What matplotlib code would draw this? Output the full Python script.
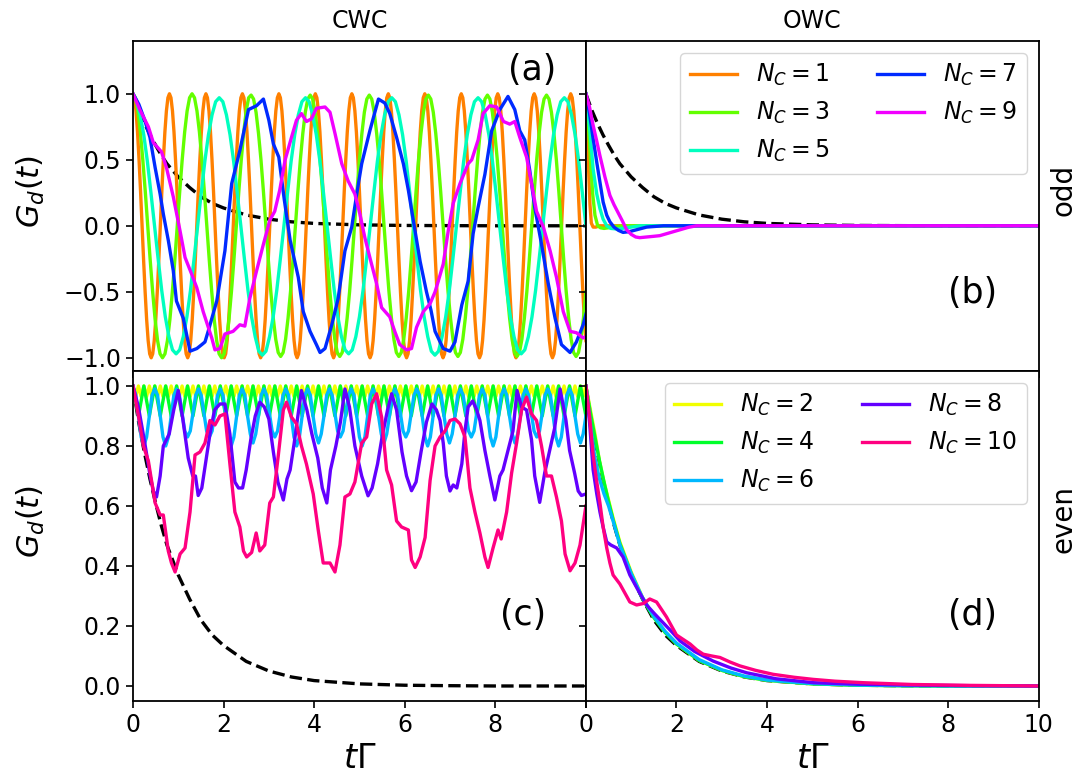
import numpy as np
import matplotlib.pyplot as plt

# ---------------- data ----------------
# reference decay (black dashed), same curve in all four panels
t_ref = [0, 0.125, 0.25, 0.375, 0.5, 0.625, 0.75, 0.875, 1.0, 1.25, 1.5, 1.75,
         2.0, 2.5, 3.0, 3.5, 4.0, 5.0, 6.0, 7.0, 8.0, 10.0]
g_ref = [1.0, 0.88, 0.78, 0.69, 0.61, 0.535, 0.47, 0.42, 0.37, 0.29, 0.22, 0.17,
         0.135, 0.082, 0.05, 0.03, 0.018, 0.007, 0.0025, 0.001, 0.0, 0.0]

# (a) CWC, odd N_C  (one row = one oscillation period)
t_n1 = np.linspace(0, 10, 299)
g_n1 = [
    1.0, 0.97, 0.87, 0.71, 0.5, 0.26, 0.0, -0.26, -0.5, -0.71, -0.87, -0.97, -1.0, -0.97, -0.87, -0.71, -0.5, -0.26, 0.0, 0.26, 0.5, 0.71, 0.87, 0.97,
    1.0, 0.97, 0.87, 0.71, 0.5, 0.26, 0.0, -0.26, -0.5, -0.71, -0.87, -0.97, -1.0, -0.97, -0.87, -0.71, -0.5, -0.26, 0.0, 0.26, 0.5, 0.71, 0.87, 0.97,
    1.0, 0.97, 0.87, 0.71, 0.5, 0.26, 0.0, -0.26, -0.5, -0.71, -0.87, -0.97, -1.0, -0.97, -0.87, -0.71, -0.5, -0.26, 0.0, 0.26, 0.5, 0.71, 0.87, 0.97,
    1.0, 0.97, 0.87, 0.71, 0.5, 0.26, 0.0, -0.26, -0.5, -0.71, -0.87, -0.97, -1.0, -0.97, -0.87, -0.71, -0.5, -0.26, 0.0, 0.26, 0.5, 0.71, 0.87, 0.97,
    1.0, 0.97, 0.87, 0.71, 0.5, 0.26, 0.0, -0.26, -0.5, -0.71, -0.87, -0.97, -1.0, -0.97, -0.87, -0.71, -0.5, -0.26, 0.0, 0.26, 0.5, 0.71, 0.87, 0.97,
    1.0, 0.97, 0.87, 0.71, 0.5, 0.26, 0.0, -0.26, -0.5, -0.71, -0.87, -0.97, -1.0, -0.97, -0.87, -0.71, -0.5, -0.26, 0.0, 0.26, 0.5, 0.71, 0.87, 0.97,
    1.0, 0.97, 0.87, 0.71, 0.5, 0.26, 0.0, -0.26, -0.5, -0.71, -0.87, -0.97, -1.0, -0.97, -0.87, -0.71, -0.5, -0.26, 0.0, 0.26, 0.5, 0.71, 0.87, 0.97,
    1.0, 0.97, 0.87, 0.71, 0.5, 0.26, 0.0, -0.26, -0.5, -0.71, -0.87, -0.97, -1.0, -0.97, -0.87, -0.71, -0.5, -0.26, 0.0, 0.26, 0.5, 0.71, 0.87, 0.97,
    1.0, 0.97, 0.87, 0.71, 0.5, 0.26, 0.0, -0.26, -0.5, -0.71, -0.87, -0.97, -1.0, -0.97, -0.87, -0.71, -0.5, -0.26, 0.0, 0.26, 0.5, 0.71, 0.87, 0.97,
    1.0, 0.97, 0.87, 0.71, 0.5, 0.26, 0.0, -0.26, -0.5, -0.71, -0.87, -0.97, -1.0, -0.97, -0.87, -0.71, -0.5, -0.26, 0.0, 0.26, 0.5, 0.71, 0.87, 0.97,
    1.0, 0.97, 0.87, 0.71, 0.5, 0.26, 0.0, -0.26, -0.5, -0.71, -0.87, -0.97, -1.0, -0.97, -0.87, -0.71, -0.5, -0.26, 0.0, 0.26, 0.5, 0.71, 0.87, 0.97,
    1.0, 0.97, 0.87, 0.71, 0.5, 0.26, 0.0, -0.26, -0.5, -0.71, -0.87, -0.97, -1.0, -0.97, -0.87, -0.71, -0.5, -0.26, 0.0, 0.26, 0.5, 0.71, 0.87, 0.97,
    1.0, 0.97, 0.87, 0.71, 0.5, 0.26, 0.0, -0.26, -0.5, -0.71, -0.87]

t_n3 = np.linspace(0, 10, 185)
g_n3 = [
    1.0, 0.97, 0.87, 0.71, 0.5, 0.26, 0.0, -0.26, -0.5, -0.71, -0.87, -0.97, -1.0, -0.97, -0.87, -0.71, -0.5, -0.26, 0.0, 0.26, 0.5, 0.71, 0.87, 0.97,
    1.0, 0.97, 0.87, 0.71, 0.5, 0.26, 0.0, -0.26, -0.5, -0.71, -0.87, -0.97, -1.0, -0.97, -0.87, -0.71, -0.5, -0.26, 0.0, 0.26, 0.5, 0.71, 0.87, 0.97,
    0.99, 0.96, 0.86, 0.7, 0.5, 0.26, 0.0, -0.26, -0.5, -0.7, -0.86, -0.96, -0.99, -0.96, -0.86, -0.7, -0.5, -0.26, 0.0, 0.26, 0.5, 0.7, 0.86, 0.96,
    0.99, 0.96, 0.86, 0.7, 0.5, 0.26, 0.0, -0.26, -0.5, -0.7, -0.86, -0.96, -0.99, -0.96, -0.86, -0.7, -0.5, -0.26, 0.0, 0.26, 0.5, 0.7, 0.86, 0.96,
    0.99, 0.96, 0.86, 0.7, 0.5, 0.26, 0.0, -0.26, -0.5, -0.7, -0.86, -0.96, -0.99, -0.96, -0.86, -0.7, -0.5, -0.26, 0.0, 0.26, 0.5, 0.7, 0.86, 0.96,
    0.99, 0.96, 0.86, 0.7, 0.5, 0.26, 0.0, -0.26, -0.5, -0.7, -0.86, -0.96, -0.99, -0.96, -0.86, -0.7, -0.5, -0.26, 0.0, 0.26, 0.5, 0.7, 0.86, 0.96,
    0.99, 0.96, 0.86, 0.7, 0.5, 0.26, 0.0, -0.26, -0.5, -0.7, -0.86, -0.96, -0.99, -0.96, -0.86, -0.7, -0.5, -0.26, 0.0, 0.26, 0.5, 0.7, 0.86, 0.96,
    0.99, 0.96, 0.86, 0.7, 0.5, 0.26, 0.0, -0.26, -0.5, -0.7, -0.86, -0.96, -0.99, -0.96, -0.86, -0.7, -0.5]

t_n5 = np.linspace(0, 10, 127)
g_n5 = [
    1.0, 0.95, 0.84, 0.69, 0.49, 0.25, 0.0, -0.25, -0.49, -0.69, -0.84, -0.94, -0.97, -0.94, -0.84, -0.69, -0.49, -0.25, 0.0, 0.25, 0.49, 0.69, 0.84, 0.94,
    0.97, 0.94, 0.84, 0.69, 0.49, 0.25, 0.0, -0.25, -0.49, -0.69, -0.84, -0.95, -0.98, -0.95, -0.84, -0.69, -0.49, -0.25, 0.0, 0.25, 0.49, 0.69, 0.84, 0.94,
    0.97, 0.94, 0.84, 0.69, 0.49, 0.25, 0.0, -0.25, -0.49, -0.69, -0.84, -0.94, -0.97, -0.94, -0.84, -0.69, -0.49, -0.25, 0.0, 0.25, 0.49, 0.69, 0.84, 0.94,
    0.97, 0.94, 0.84, 0.69, 0.49, 0.25, 0.0, -0.25, -0.49, -0.69, -0.84, -0.95, -0.98, -0.95, -0.84, -0.69, -0.49, -0.25, 0.0, 0.25, 0.49, 0.69, 0.84, 0.94,
    0.97, 0.94, 0.84, 0.69, 0.49, 0.25, 0.0, -0.25, -0.49, -0.69, -0.84, -0.94, -0.97, -0.94, -0.84, -0.69, -0.49, -0.25, 0.0, 0.25, 0.49, 0.69, 0.84, 0.94,
    0.97, 0.94, 0.84, 0.69, 0.49, 0.25, 0.0]

t_n7 = [0, 0.13, 0.26, 0.375, 0.49, 0.6, 0.67, 0.78, 0.89, 0.96, 1.11, 1.26,
        1.41, 1.52, 1.59, 1.66, 1.85, 2.03, 2.18, 2.36, 2.55, 2.73, 2.88, 3.0,
        3.10, 3.22, 3.34, 3.47, 3.65, 3.76, 3.91, 4.05, 4.13, 4.24, 4.39, 4.53,
        4.68, 4.83, 4.94, 5.05, 5.23, 5.42, 5.56, 5.67, 5.82, 5.97, 6.08, 6.19,
        6.34, 6.48, 6.58, 6.67, 6.85, 7.0, 7.11, 7.26, 7.40, 7.51, 7.62, 7.77,
        7.92, 8.10, 8.28, 8.43, 8.54, 8.65, 8.76, 8.87, 9.02, 9.17, 9.32, 9.46,
        9.65, 9.79, 9.94, 10.0]
g_n7 = [1.0, 0.92, 0.80, 0.67, 0.44, 0.24, 0.09, -0.11, -0.34, -0.57, -0.70, -0.95,
        -0.93, -0.90, -0.88, -0.80, -0.57, -0.19, 0.32, 0.57, 0.88, 0.91, 0.96, 0.80,
        0.62, 0.52, 0.20, -0.11, -0.39, -0.65, -0.80, -0.90, -0.96, -0.93, -0.75, -0.55,
        -0.19, -0.01, 0.24, 0.47, 0.72, 0.96, 0.93, 0.85, 0.67, 0.47, 0.27, 0.04,
        -0.27, -0.50, -0.64, -0.80, -0.93, -0.95, -0.88, -0.60, -0.42, -0.06, 0.14, 0.39,
        0.72, 0.88, 0.98, 0.88, 0.72, 0.65, 0.42, 0.14, -0.14, -0.44, -0.70, -0.90,
        -0.96, -0.88, -0.75, -0.67]

t_n9 = [0, 0.15, 0.34, 0.45, 0.63, 0.74, 0.89, 1.04, 1.15, 1.30, 1.41, 1.55,
        1.74, 1.81, 1.92, 2.03, 2.21, 2.36, 2.47, 2.58, 2.73, 2.88, 3.02, 3.13,
        3.24, 3.36, 3.50, 3.61, 3.72, 3.83, 3.94, 4.05, 4.24, 4.35, 4.46, 4.61,
        4.75, 4.90, 5.01, 5.12, 5.23, 5.38, 5.49, 5.67, 5.78, 5.89, 6.04, 6.15,
        6.26, 6.41, 6.56, 6.67, 6.74, 6.85, 6.96, 7.07, 7.22, 7.40, 7.48, 7.62,
        7.73, 7.88, 8.03, 8.18, 8.32, 8.43, 8.54, 8.69, 8.80, 8.91, 9.06, 9.21,
        9.35, 9.50, 9.65, 9.79, 9.94, 10.0]
g_n9 = [1.0, 0.88, 0.75, 0.63, 0.56, 0.44, 0.22, -0.04, -0.24, -0.37, -0.47, -0.65,
        -0.85, -0.94, -0.93, -0.82, -0.80, -0.75, -0.76, -0.55, -0.34, -0.14, 0.04, 0.11,
        0.27, 0.50, 0.67, 0.80, 0.85, 0.79, 0.81, 0.89, 0.90, 0.86, 0.70, 0.47,
        0.34, 0.24, 0.09, -0.09, -0.24, -0.44, -0.62, -0.69, -0.80, -0.90, -0.94, -0.93,
        -0.77, -0.65, -0.59, -0.50, -0.42, -0.29, -0.04, 0.17, 0.32, 0.47, 0.50, 0.65,
        0.85, 0.91, 0.90, 0.79, 0.77, 0.79, 0.67, 0.52, 0.32, 0.11, -0.01, -0.19,
        -0.39, -0.65, -0.80, -0.81, -0.85, -0.84]

# (b) OWC, odd N_C
tb_n1 = [0, 0.03, 0.06, 0.09, 0.12, 0.16, 0.22, 0.3, 0.5, 10]
gb_n1 = [1.0, 0.72, 0.42, 0.16, 0.02, -0.01, -0.01, 0.0, 0.0, 0.0]
tb_n3 = [0, 0.05, 0.1, 0.15, 0.2, 0.26, 0.32, 0.4, 0.5, 0.65, 0.9, 10]
gb_n3 = [1.0, 0.8, 0.5, 0.24, 0.08, 0.0, -0.015, -0.02, -0.015, -0.005, 0.0, 0.0]
tb_n5 = [0, 0.08, 0.16, 0.24, 0.31, 0.38, 0.46, 0.55, 0.7, 0.9, 1.2, 10]
gb_n5 = [1.0, 0.75, 0.43, 0.24, 0.13, 0.05, 0.0, -0.02, -0.025, -0.015, 0.0, 0.0]
tb_n7 = [0, 0.08, 0.16, 0.24, 0.31, 0.38, 0.46, 0.53, 0.62, 0.72, 0.82, 0.95,
         1.12, 1.34, 1.71, 2.2, 10]
gb_n7 = [1.0, 0.85, 0.66, 0.48, 0.33, 0.18, 0.08, 0.03, -0.01, -0.035, -0.05, -0.045,
         -0.03, -0.01, 0.0, 0.0, 0.0]
tb_n9 = [0, 0.08, 0.16, 0.24, 0.31, 0.42, 0.53, 0.62, 0.71, 0.80, 0.90, 1.0,
         1.1, 1.19, 1.34, 1.49, 1.63, 1.78, 1.93, 2.08, 2.26, 2.44, 2.8, 10]
gb_n9 = [1.0, 0.9, 0.76, 0.64, 0.53, 0.37, 0.23, 0.16, 0.10, 0.04, -0.03, -0.065,
         -0.085, -0.09, -0.085, -0.08, -0.075, -0.06, -0.045, -0.03, -0.012, 0.0, 0.0, 0.0]

# (c) CWC, even N_C
t_fast = np.linspace(0, 10, 167)
g_n2 = [
    1.0, 0.965, 1.0, 0.965, 1.0, 0.965, 1.0, 0.965, 1.0, 0.965, 1.0, 0.965, 1.0, 0.965, 1.0, 0.965,
    1.0, 0.965, 1.0, 0.965, 1.0, 0.965, 1.0, 0.965, 1.0, 0.965, 1.0, 0.965, 1.0, 0.965, 1.0, 0.965,
    1.0, 0.965, 1.0, 0.965, 1.0, 0.965, 1.0, 0.965, 1.0, 0.965, 1.0, 0.965, 1.0, 0.965, 1.0, 0.965,
    1.0, 0.965, 1.0, 0.965, 1.0, 0.965, 1.0, 0.965, 1.0, 0.965, 1.0, 0.965, 1.0, 0.965, 1.0, 0.965,
    1.0, 0.965, 1.0, 0.965, 1.0, 0.965, 1.0, 0.965, 1.0, 0.965, 1.0, 0.965, 1.0, 0.965, 1.0, 0.965,
    1.0, 0.965, 1.0, 0.965, 1.0, 0.965, 1.0, 0.965, 1.0, 0.965, 1.0, 0.965, 1.0, 0.965, 1.0, 0.965,
    1.0, 0.965, 1.0, 0.965, 1.0, 0.965, 1.0, 0.965, 1.0, 0.965, 1.0, 0.965, 1.0, 0.965, 1.0, 0.965,
    1.0, 0.965, 1.0, 0.965, 1.0, 0.965, 1.0, 0.965, 1.0, 0.965, 1.0, 0.965, 1.0, 0.965, 1.0, 0.965,
    1.0, 0.965, 1.0, 0.965, 1.0, 0.965, 1.0, 0.965, 1.0, 0.965, 1.0, 0.965, 1.0, 0.965, 1.0, 0.965,
    1.0, 0.965, 1.0, 0.965, 1.0, 0.965, 1.0, 0.965, 1.0, 0.965, 1.0, 0.965, 1.0, 0.965, 1.0, 0.965,
    1.0, 0.965, 1.0, 0.965, 1.0, 0.965, 1.0]
g_n4 = [
    1.0, 0.95, 0.9, 0.95, 1.0, 0.95, 0.9, 0.95, 1.0, 0.95, 0.9, 0.95, 1.0, 0.95, 0.9, 0.95,
    1.0, 0.95, 0.9, 0.95, 1.0, 0.95, 0.9, 0.95, 1.0, 0.95, 0.9, 0.95, 1.0, 0.95, 0.9, 0.95,
    1.0, 0.95, 0.9, 0.95, 1.0, 0.95, 0.9, 0.95, 1.0, 0.95, 0.9, 0.95, 1.0, 0.95, 0.9, 0.95,
    1.0, 0.95, 0.9, 0.95, 1.0, 0.95, 0.9, 0.95, 1.0, 0.95, 0.9, 0.95, 1.0, 0.95, 0.9, 0.95,
    1.0, 0.95, 0.9, 0.95, 1.0, 0.95, 0.9, 0.95, 1.0, 0.95, 0.9, 0.95, 1.0, 0.95, 0.9, 0.95,
    1.0, 0.95, 0.9, 0.95, 1.0, 0.95, 0.9, 0.95, 1.0, 0.95, 0.9, 0.95, 1.0, 0.95, 0.9, 0.95,
    1.0, 0.95, 0.9, 0.95, 1.0, 0.95, 0.9, 0.95, 1.0, 0.95, 0.9, 0.95, 1.0, 0.95, 0.9, 0.95,
    1.0, 0.95, 0.9, 0.95, 1.0, 0.95, 0.9, 0.95, 1.0, 0.95, 0.9, 0.95, 1.0, 0.95, 0.9, 0.95,
    1.0, 0.95, 0.9, 0.95, 1.0, 0.95, 0.9, 0.95, 1.0, 0.95, 0.9, 0.95, 1.0, 0.95, 0.9, 0.95,
    1.0, 0.95, 0.9, 0.95, 1.0, 0.95, 0.9, 0.95, 1.0, 0.95, 0.9, 0.95, 1.0, 0.95, 0.9, 0.95,
    1.0, 0.95, 0.9, 0.95, 1.0, 0.95, 0.9]
g_n6 = [
    1.0, 0.97, 0.9, 0.83, 0.8, 0.83, 0.9, 0.97, 0.99, 0.97, 0.9, 0.83, 0.8, 0.83, 0.9, 0.97,
    0.99, 0.97, 0.91, 0.85, 0.83, 0.85, 0.91, 0.97, 0.99, 0.97, 0.91, 0.85, 0.83, 0.85, 0.91, 0.97,
    0.99, 0.97, 0.9, 0.83, 0.8, 0.83, 0.9, 0.97, 0.99, 0.97, 0.9, 0.84, 0.81, 0.84, 0.9, 0.97,
    0.99, 0.97, 0.91, 0.85, 0.83, 0.85, 0.91, 0.97, 0.99, 0.97, 0.9, 0.83, 0.8, 0.83, 0.9, 0.97,
    0.99, 0.97, 0.9, 0.84, 0.81, 0.84, 0.9, 0.97, 0.99, 0.97, 0.91, 0.85, 0.83, 0.85, 0.91, 0.97,
    0.99, 0.97, 0.9, 0.83, 0.8, 0.83, 0.9, 0.97, 0.99, 0.97, 0.9, 0.84, 0.81, 0.84, 0.9, 0.97,
    0.99, 0.97, 0.91, 0.85, 0.83, 0.85, 0.91, 0.97, 0.99, 0.97, 0.9, 0.83, 0.8, 0.83, 0.9, 0.97,
    0.99, 0.97, 0.9, 0.84, 0.81, 0.84, 0.9, 0.97, 0.99, 0.97, 0.91, 0.85, 0.83, 0.85, 0.91, 0.97,
    0.99, 0.97, 0.9, 0.83, 0.8, 0.83, 0.9, 0.97, 0.99, 0.97, 0.9, 0.84, 0.81, 0.84, 0.9, 0.97,
    0.99, 0.97, 0.91, 0.85, 0.83, 0.85, 0.91, 0.97, 0.99, 0.97, 0.9, 0.83, 0.8, 0.83, 0.9, 0.97,
    0.99, 0.97, 0.9, 0.84, 0.81, 0.84, 0.9]

t_n8 = [0, 0.12, 0.25, 0.38, 0.45, 0.52, 0.60, 0.67, 0.80, 0.90, 1.0, 1.10,
        1.22, 1.32, 1.38, 1.44, 1.52, 1.60, 1.70, 1.80, 1.92, 2.03, 2.14, 2.25,
        2.33, 2.42, 2.50, 2.60, 2.70, 2.80, 2.90, 3.0, 3.10, 3.20, 3.32, 3.40,
        3.47, 3.56, 3.65, 3.72, 3.84, 3.95, 4.08, 4.18, 4.28, 4.36, 4.48, 4.58,
        4.68, 4.78, 4.90, 5.05, 5.19, 5.28, 5.40, 5.50, 5.62, 5.71, 5.82, 5.94,
        6.04, 6.15, 6.25, 6.36, 6.48, 6.60, 6.70, 6.78, 6.85, 6.92, 7.0, 7.07,
        7.15, 7.26, 7.33, 7.40, 7.50, 7.59, 7.66, 7.77, 7.88, 7.99, 8.10, 8.17,
        8.28, 8.39, 8.48, 8.58, 8.69, 8.80, 8.87, 8.98, 9.09, 9.20, 9.31, 9.43,
        9.56, 9.64, 9.75, 9.83, 9.90, 10.0]
g_n8 = [1.0, 0.93, 0.82, 0.70, 0.65, 0.63, 0.70, 0.80, 0.84, 0.92, 0.985, 0.89,
        0.76, 0.70, 0.70, 0.635, 0.66, 0.74, 0.84, 0.92, 0.94, 0.94, 0.84, 0.68,
        0.66, 0.66, 0.72, 0.82, 0.90, 0.946, 0.93, 0.89, 0.78, 0.68, 0.62, 0.69,
        0.72, 0.81, 0.91, 0.985, 0.92, 0.84, 0.76, 0.66, 0.61, 0.72, 0.80, 0.88,
        0.99, 0.93, 0.80, 0.70, 0.634, 0.66, 0.74, 0.83, 0.92, 0.974, 0.92, 0.78,
        0.70, 0.651, 0.68, 0.78, 0.88, 0.94, 0.92, 0.885, 0.81, 0.70, 0.65, 0.67,
        0.66, 0.74, 0.85, 0.93, 0.95, 0.92, 0.885, 0.785, 0.70, 0.62, 0.70, 0.72,
        0.785, 0.85, 0.985, 0.93, 0.92, 0.82, 0.70, 0.612, 0.71, 0.785, 0.86, 0.99,
        0.885, 0.785, 0.71, 0.65, 0.635, 0.64]

t_n10 = [0, 0.12, 0.23, 0.34, 0.49, 0.6, 0.67, 0.78, 0.85, 0.93, 1.04, 1.15,
         1.26, 1.37, 1.48, 1.59, 1.70, 1.81, 1.92, 2.03, 2.14, 2.25, 2.36, 2.44,
         2.51, 2.62, 2.72, 2.80, 2.91, 3.02, 3.10, 3.21, 3.32, 3.39, 3.50, 3.61,
         3.72, 3.83, 3.98, 4.09, 4.20, 4.35, 4.46, 4.57, 4.68, 4.79, 4.90, 5.05,
         5.16, 5.27, 5.38, 5.49, 5.60, 5.71, 5.82, 5.93, 6.08, 6.15, 6.23, 6.34,
         6.45, 6.56, 6.67, 6.78, 6.89, 7.0, 7.11, 7.22, 7.33, 7.44, 7.55, 7.66,
         7.77, 7.84, 7.95, 8.06, 8.13, 8.25, 8.36, 8.47, 8.58, 8.69, 8.80, 8.91,
         9.02, 9.13, 9.24, 9.35, 9.46, 9.54, 9.65, 9.76, 9.87, 9.98, 10.0]
g_n10 = [1.0, 0.90, 0.80, 0.75, 0.61, 0.57, 0.57, 0.45, 0.41, 0.38, 0.44, 0.46,
         0.58, 0.77, 0.78, 0.81, 0.885, 0.87, 0.90, 0.907, 0.74, 0.58, 0.53, 0.45,
         0.43, 0.445, 0.51, 0.45, 0.47, 0.61, 0.63, 0.77, 0.92, 0.946, 0.896, 0.874,
         0.80, 0.74, 0.64, 0.52, 0.41, 0.41, 0.38, 0.47, 0.63, 0.64, 0.68, 0.81,
         0.83, 0.94, 0.974, 0.896, 0.72, 0.67, 0.55, 0.53, 0.52, 0.42, 0.395, 0.43,
         0.495, 0.685, 0.80, 0.83, 0.85, 0.885, 0.89, 0.874, 0.83, 0.66, 0.58, 0.51,
         0.43, 0.395, 0.46, 0.52, 0.49, 0.58, 0.71, 0.81, 0.92, 0.963, 0.907, 0.885,
         0.80, 0.70, 0.70, 0.63, 0.55, 0.44, 0.384, 0.41, 0.47, 0.58, 0.60]

# (d) OWC, even N_C
td = [0, 0.1, 0.2, 0.3, 0.4, 0.5, 0.6, 0.75, 1.0, 1.25, 1.5, 1.75, 2.0, 2.5,
      3.0, 3.5, 4.0, 5.0, 6.0, 7.0, 8.0, 10.0]
gd_n2 = [1.0, 0.92, 0.84, 0.75, 0.68, 0.62, 0.56, 0.48, 0.38, 0.295, 0.23, 0.18,
         0.14, 0.085, 0.052, 0.031, 0.019, 0.007, 0.0025, 0.001, 0.0, 0.0]
gd_n4 = [1.0, 0.91, 0.83, 0.75, 0.68, 0.615, 0.555, 0.475, 0.375, 0.29, 0.228, 0.178,
         0.14, 0.085, 0.052, 0.031, 0.019, 0.007, 0.0025, 0.001, 0.0, 0.0]
gd_n6 = [1.0, 0.87, 0.76, 0.69, 0.64, 0.6, 0.55, 0.47, 0.375, 0.295, 0.232, 0.182,
         0.143, 0.088, 0.054, 0.033, 0.02, 0.008, 0.003, 0.001, 0.0, 0.0]
td_n8 = [0, 0.08, 0.16, 0.24, 0.31, 0.38, 0.46, 0.55, 0.68, 0.82, 0.97, 1.15,
         1.34, 1.52, 1.71, 1.9, 2.08, 2.4, 2.81, 3.2, 3.55, 4.2, 5.02, 6.0, 7.2, 8.5, 10]
gd_n8 = [1.0, 0.88, 0.72, 0.64, 0.58, 0.53, 0.48, 0.47, 0.46, 0.43, 0.37, 0.32,
         0.27, 0.24, 0.21, 0.18, 0.15, 0.115, 0.083, 0.06, 0.044, 0.024, 0.011, 0.006,
         0.003, 0.001, 0.0]
td_n10 = [0, 0.08, 0.16, 0.24, 0.31, 0.38, 0.46, 0.53, 0.60, 0.75, 0.86, 0.97,
          1.12, 1.27, 1.41, 1.56, 1.67, 1.78, 1.89, 2.0, 2.15, 2.30, 2.45, 2.59,
          2.78, 2.96, 3.18, 3.40, 3.75, 4.13, 4.6, 5.02, 5.5, 6.12, 7.2, 8.5, 10]
gd_n10 = [1.0, 0.9, 0.77, 0.68, 0.61, 0.53, 0.46, 0.41, 0.37, 0.34, 0.31, 0.28,
          0.27, 0.275, 0.29, 0.28, 0.255, 0.23, 0.20, 0.17, 0.155, 0.14, 0.12, 0.106,
          0.10, 0.095, 0.08, 0.067, 0.052, 0.039, 0.029, 0.022, 0.016, 0.011, 0.005,
          0.002, 0.0]

colors = {1: '#ff8000', 2: '#f1ff00', 3: '#63ff00', 4: '#00ff2a', 5: '#00ffbf',
          6: '#00b8ff', 7: '#002aff', 8: '#6300ff', 9: '#f100ff', 10: '#ff0080'}

# ---------------- figure ----------------
plt.rcParams['axes.linewidth'] = 1.3
fig, axes = plt.subplots(2, 2, sharex='col', sharey='row', figsize=(10.81, 7.82), dpi=100)
fig.subplots_adjust(left=0.123, right=0.961, top=0.9476, bottom=0.1036, hspace=0, wspace=0)
ax_a, ax_b = axes[0]
ax_c, ax_d = axes[1]
lw = 2.4

for ax in axes.flat:
    ax.plot(t_ref, g_ref, 'k--', lw=lw)

odd_cwc = [(1, t_n1, g_n1), (3, t_n3, g_n3), (5, t_n5, g_n5), (7, t_n7, g_n7), (9, t_n9, g_n9)]
for n, t, g in odd_cwc:
    ax_a.plot(t, g, color=colors[n], lw=lw)

odd_owc = [(1, tb_n1, gb_n1), (3, tb_n3, gb_n3), (5, tb_n5, gb_n5), (7, tb_n7, gb_n7), (9, tb_n9, gb_n9)]
for n, t, g in odd_owc:
    ax_b.plot(t, g, color=colors[n], lw=lw, label=r'$N_C=%d$' % n)

even_cwc = [(2, t_fast, g_n2), (4, t_fast, g_n4), (6, t_fast, g_n6), (8, t_n8, g_n8), (10, t_n10, g_n10)]
for n, t, g in even_cwc:
    ax_c.plot(t, g, color=colors[n], lw=lw)

even_owc = [(2, td, gd_n2), (4, td, gd_n4), (6, td, gd_n6), (8, td_n8, gd_n8), (10, td_n10, gd_n10)]
for n, t, g in even_owc:
    ax_d.plot(t, g, color=colors[n], lw=lw, label=r'$N_C=%d$' % n)

for ax in axes.flat:
    ax.set_xlim(0, 10)
    ax.tick_params(labelsize=17, width=1.2, length=5)
ax_a.set_ylim(-1.1, 1.4)
ax_a.set_yticks([-1, -0.5, 0, 0.5, 1])
ax_c.set_ylim(-0.05, 1.05)
ax_c.set_yticks([0, 0.2, 0.4, 0.6, 0.8, 1.0])
ax_c.set_xticks([0, 2, 4, 6, 8, 10])
ax_c.set_xticklabels(['0', '2', '4', '6', '8', ''])
ax_d.set_xticks([0, 2, 4, 6, 8, 10])

for ax in (ax_a, ax_c):
    ax.set_ylabel(r'$G_d(t)$', fontsize=22)
    ax.yaxis.set_label_coords(-0.19, 0.545)
for ax in (ax_c, ax_d):
    ax.set_xlabel(r'$t\Gamma$', fontsize=24)
ax_a.set_title('CWC', fontsize=17, pad=9)
ax_b.set_title('OWC', fontsize=17, pad=9)
ax_b.text(1.055, 0.55, 'odd', transform=ax_b.transAxes, rotation=90,
          ha='center', va='center', fontsize=20)
ax_d.text(1.055, 0.55, 'even', transform=ax_d.transAxes, rotation=90,
          ha='center', va='center', fontsize=20)

for ax, lab, x, y in [(ax_a, '(a)', 0.881, 0.912), (ax_b, '(b)', 0.854, 0.236),
                      (ax_c, '(c)', 0.861, 0.26), (ax_d, '(d)', 0.854, 0.26)]:
    ax.text(x, y, lab, transform=ax.transAxes, ha='center', va='center', fontsize=25)

ax_b.legend(loc='upper right', ncol=2, fontsize=17)
ax_d.legend(loc='upper right', ncol=2, fontsize=17)

plt.savefig('out.png', dpi=100)
